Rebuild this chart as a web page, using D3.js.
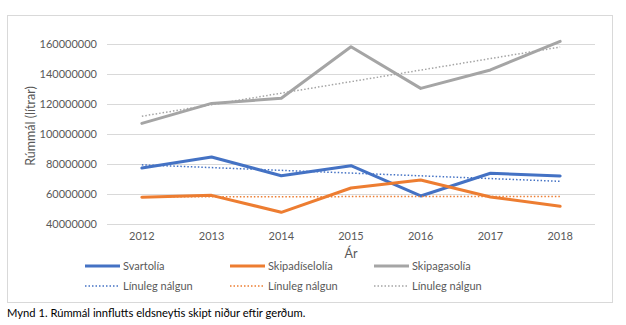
<!DOCTYPE html>
<html><head><meta charset="utf-8">
<script src="https://cdn.jsdelivr.net/npm/d3@7"></script>
<style>
body{margin:0;background:#fff;}
text{font-family:Lato,"Open Sans",sans-serif;}
</style></head>
<body><svg id="c" width="626" height="325"></svg>
<script>
const years = ["2012","2013","2014","2015","2016","2017","2018"];
const svartolia = [77.3e6, 84.7e6, 72.2e6, 78.9e6, 58.7e6, 73.8e6, 72.0e6];
const skipadiselolia = [57.8e6, 59.1e6, 47.8e6, 64.0e6, 69.3e6, 58.0e6, 51.8e6];
const skipagasolia = [107.1e6, 120.4e6, 123.8e6, 158.2e6, 130.4e6, 142.7e6, 161.8e6];
const yTicks = [40000000, 60000000, 80000000, 100000000, 120000000, 140000000, 160000000];
const seriesNames = ["Svartolía", "Skipadíselolía", "Skipagasolía"];
const trendName = "Línuleg nálgun";
const colors = ["#4472C4", "#ED7D31", "#A5A5A5"];

const seriesList = [svartolia, skipadiselolia, skipagasolia];

const svg = d3.select("#c");
const pLeft = 107, pRight = 595, pTop = 44, pBottom = 224;

// chart border
svg.append("rect").attr("x", 7.5).attr("y", 15.5).attr("width", 605).attr("height", 287)
  .attr("fill", "none").attr("stroke", "#D9D9D9").attr("stroke-width", 1);

const x = d3.scaleBand().domain(years).range([pLeft, pRight]);
const y = d3.scaleLinear().domain([40000000, 160000000]).range([pBottom, pTop]);

// gridlines
svg.append("g").selectAll("line").data(yTicks).join("line")
  .attr("x1", pLeft).attr("x2", pRight)
  .attr("y1", d => Math.round(y(d)) + 0.5).attr("y2", d => Math.round(y(d)) + 0.5)
  .attr("stroke", "#D9D9D9").attr("stroke-width", 1);

// y axis labels
const yAxis = d3.axisLeft(y).tickValues(yTicks).tickFormat(d3.format("d")).tickSize(0).tickPadding(0);
const gy = svg.append("g").attr("transform", `translate(97,0)`).call(yAxis);
gy.select(".domain").remove();
gy.selectAll("text").attr("font-size", "11px").attr("fill", "#595959").style("font-family", "Lato");

// x axis labels
const xAxis = d3.axisBottom(x).tickSize(0).tickPadding(0);
const gx = svg.append("g").attr("transform", `translate(0,232)`).call(xAxis);
gx.select(".domain").remove();
gx.selectAll("text").attr("font-size", "11px").attr("fill", "#595959").style("font-family", "Lato");

// axis titles
svg.append("text").attr("x", x("2015") + x.bandwidth()/2).attr("y", 258).attr("text-anchor", "middle")
  .attr("font-size", "12.5px").attr("fill", "#595959").text("Ár");
svg.append("text").attr("transform", "translate(31,126) rotate(-90)").attr("text-anchor", "middle")
  .attr("dy", "0.35em")
  .attr("font-size", "12.5px").attr("fill", "#595959").text("Rúmmál (lítrar)");

const cx = d => x(d) + x.bandwidth()/2;
const line = d3.line().x((d, i) => cx(years[i])).y(d => y(d));

// trend lines (least squares)
function trend(vals) {
  const xs = vals.map((_, i) => i);
  const mx = d3.mean(xs), my = d3.mean(vals);
  const b = d3.sum(xs.map((xi, i) => (xi - mx) * (vals[i] - my))) / d3.sum(xs.map(xi => (xi - mx) ** 2));
  const a = my - b * mx;
  return xs.map(xi => a + b * xi);
}

seriesList.forEach((s, k) => {
  svg.append("path").datum(s).attr("d", line).attr("fill", "none")
    .attr("stroke", colors[k]).attr("stroke-width", 3).attr("stroke-linejoin", "round").attr("stroke-linecap", "round");
});
seriesList.forEach((s, k) => {
  svg.append("path").datum(trend(s)).attr("d", line).attr("fill", "none")
    .attr("stroke", colors[k]).attr("stroke-width", 1.5).attr("stroke-dasharray", "1.5,2");
});

// legend
const legX = [85, 230, 374];
seriesNames.forEach((name, k) => {
  const g = svg.append("g");
  g.append("line").attr("x1", legX[k]).attr("x2", legX[k] + 35).attr("y1", 266).attr("y2", 266)
    .attr("stroke", colors[k]).attr("stroke-width", 3);
  g.append("text").attr("x", legX[k] + 38).attr("y", 266).attr("dy", "0.35em")
    .attr("font-size", "11px").attr("fill", "#595959").text(name);
  g.append("line").attr("x1", legX[k]).attr("x2", legX[k] + 35).attr("y1", 286).attr("y2", 286)
    .attr("stroke", colors[k]).attr("stroke-width", 1.5).attr("stroke-dasharray", "1.5,2");
  g.append("text").attr("x", legX[k] + 38).attr("y", 286).attr("dy", "0.35em")
    .attr("font-size", "11px").attr("fill", "#595959").text(trendName);
});

// caption
svg.append("text").attr("x", 7).attr("y", 317).attr("font-size", "11.2px").attr("fill", "#000")
  .text("Mynd 1. Rúmmál innflutts eldsneytis skipt niður eftir gerðum.");
</script></body></html>
